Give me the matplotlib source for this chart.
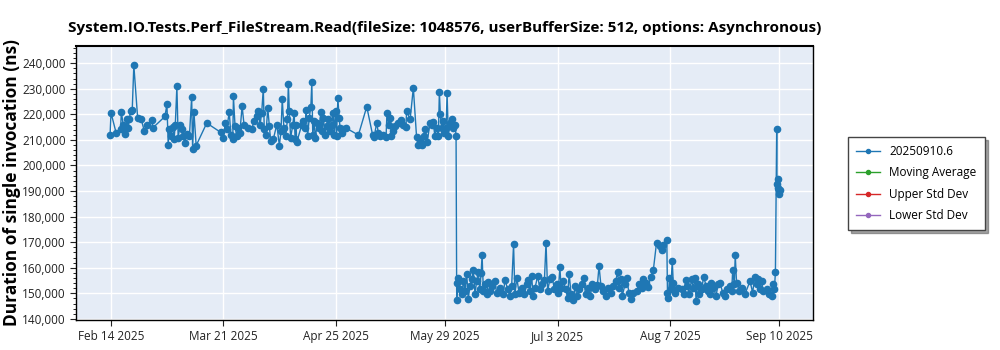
import pandas as pd
import matplotlib
matplotlib.use("Agg")
import matplotlib.pyplot as plt
import matplotlib.ticker as mticker

# days after Feb 14 2025 and measured duration (thousands of ns)
days = [
    -0.3, 0.0, 1.6, 3.0, 3.2, 3.8, 4.5, 4.9, 5.4, 5.7, 6.1, 6.6, 7.1, 8.3, 9.4, 10.4, 11.3, 12.7, 13.0,
    16.8, 17.4, 17.8, 18.1, 18.6, 19.2, 19.6, 20.0, 20.5, 20.9, 21.5, 22.0, 22.5, 23.0, 23.7, 24.4,
    25.1, 25.4, 25.8, 26.5, 29.8,
    34.1, 34.9, 35.6, 36.0, 36.8, 37.3, 37.9, 38.1, 38.6, 39.1, 39.6, 40.1, 40.8, 41.4, 42.7, 43.8,
    44.5, 45.3, 45.8, 46.4, 46.9, 47.4, 47.7, 48.2, 48.8, 49.3, 49.7,
    50.5, 51.6, 52.4, 52.9, 53.3, 53.8, 54.4, 54.9, 55.2, 55.5, 55.9, 56.6, 57.0, 57.3, 57.6, 57.8,
    59.4, 59.9, 60.4, 60.7, 61.2, 61.7, 62.2, 62.5, 62.8, 63.2, 63.6, 64.2, 64.8, 65.3, 65.7, 66.1,
    66.6, 67.1, 67.6, 68.2, 68.7, 69.2, 69.5, 69.9, 70.2, 70.6, 71.0, 71.3, 71.8, 72.3, 73.1,
    77.0, 79.6, 81.4, 81.9, 82.7, 83.2, 83.7, 84.7, 85.6, 85.9, 86.4, 86.8, 87.3, 87.9, 88.4, 89.4,
    90.2, 91.0, 91.8, 92.0, 93.1, 94.1, 95.1, 95.6, 96.2, 96.7, 97.4, 97.8, 98.4, 99.3, 99.8, 100.3,
    100.8, 101.4, 101.9, 102.2, 102.5, 102.9, 103.2, 103.6, 104.3, 104.6, 105.0, 105.5, 106.0,
    106.5, 107.1, 107.4,
    107.6, 107.8, 108.1, 108.6, 109.2, 109.7, 110.2, 110.7, 111.2, 111.7, 112.3, 112.8, 113.3,
    113.8, 114.3, 114.8, 115.2, 115.5, 115.9, 116.4, 116.9, 117.4, 118.0, 118.5, 119.5, 120.0,
    121.1, 122.1, 122.6, 123.5, 124.2, 124.7, 125.3, 125.7, 126.3, 127.0, 127.8, 128.6, 129.4,
    129.9, 130.4, 130.9, 131.4, 132.0, 132.8, 133.5, 134.2, 134.9, 135.4, 135.9, 136.6, 137.3,
    138.0, 138.7, 139.2, 139.7, 140.1, 140.8, 141.5, 142.1, 142.6, 143.2, 143.9, 144.4, 145.0,
    145.7, 146.5, 147.1, 147.7, 148.6, 149.2, 149.8, 150.6, 151.4, 151.9, 152.5, 153.2, 154.0,
    154.8, 155.6, 156.3, 157.1, 157.7, 158.1, 158.7, 159.1, 160.0, 160.5, 161.2, 161.8,
    162.6, 163.6, 164.4, 165.2, 165.7, 166.5, 167.2, 168.0, 168.8, 169.8, 170.9, 171.4, 171.9,
    173.0, 173.2, 173.5, 173.8, 174.2, 174.7, 175.0, 175.6, 176.6, 177.6, 178.3, 179.0, 179.4,
    180.0, 180.7, 181.2, 181.8, 182.1, 182.6, 183.1, 183.8, 184.5, 185.2, 185.9, 186.4, 186.9,
    187.5, 188.3, 189.0, 189.5, 190.4, 191.1, 191.8, 192.6, 193.2, 193.5, 194.0, 194.3, 194.7,
    195.6, 196.3, 197.3, 198.9, 199.7, 200.4, 201.0, 201.5, 202.0, 202.5, 203.0, 204.1, 204.9,
    205.6, 206.2, 206.5, 206.8, 207.2, 207.3, 207.5, 207.7, 207.8, 207.9, 208.2,
]
values_k = [
    211.9, 220.6, 212.7, 214.3, 220.9, 216.0, 212.5, 218.0, 214.7, 218.2, 221.3, 221.6, 239.2, 218.4, 218.1, 213.3, 215.7, 217.6, 214.7,
    219.2, 224.0, 208.2, 214.3, 211.5, 215.1, 210.2, 215.7, 230.9, 210.8, 216.0, 214.1, 211.5, 208.9, 212.5, 211.5,
    226.7, 206.3, 221.0, 207.8, 216.6,
    213.0, 210.8, 216.7, 214.1, 220.9, 212.1, 210.2, 227.1, 215.4, 211.5, 214.7, 212.8, 223.2, 216.0, 214.7, 214.1,
    217.3, 219.3, 221.3, 216.0, 220.6, 230.1, 214.1, 212.1, 222.3, 215.4, 209.5,
    210.2, 216.0, 207.8, 213.4, 226.1, 214.7, 211.5, 218.0, 231.9, 221.3, 210.8, 216.0, 220.6, 210.2, 216.0, 209.1,
    216.0, 217.3, 214.7, 221.9, 211.5, 218.7, 223.0, 232.6, 211.8, 217.3, 210.8, 216.7, 214.7, 220.9, 213.4, 218.7,
    212.1, 215.4, 218.0, 213.4, 216.0, 220.6, 212.1, 221.3, 211.5, 226.5, 218.7, 214.7, 212.8, 214.1, 214.7,
    211.9, 223.0, 212.1, 211.2, 216.7, 212.8, 211.5, 212.1, 211.1, 220.6, 216.0, 218.7, 211.5, 213.4, 215.4, 216.7,
    217.7, 216.0, 215.1, 221.3, 218.0, 230.4, 211.2, 208.2, 209.5, 208.2, 211.5, 214.3, 209.1, 216.7, 216.0, 217.0,
    211.5, 214.7, 211.5, 228.7, 220.3, 214.7, 217.3, 212.8, 214.7, 228.2, 211.5, 216.7, 218.2,
    214.7, 216.0, 211.5,
    147.3, 154.2, 156.1, 151.6, 149.6, 154.8, 150.9, 157.7, 147.7, 152.9, 155.5, 159.0, 149.6,
    154.8, 158.5, 151.6, 158.1, 164.9, 150.9, 153.5, 149.6, 154.6, 150.9, 152.9, 154.8, 150.3,
    152.2, 149.6, 155.1, 151.6, 149.0, 152.9, 169.2, 149.6, 155.9, 150.3, 152.2, 149.6, 153.5,
    155.1, 150.9, 156.8, 149.0, 152.2, 156.8, 151.6, 153.5, 155.1, 169.8, 150.9, 155.5, 156.4,
    151.6, 153.5, 150.3, 160.4, 152.2, 154.8, 151.6, 148.3, 157.7, 149.6, 147.3, 152.9, 149.0,
    151.6, 153.5, 156.1, 149.6, 152.2, 149.0, 153.5, 151.6, 153.3, 160.8, 152.9, 150.9, 149.0,
    152.2, 150.3, 152.9, 154.8, 158.5, 152.2, 155.5, 149.0, 153.5, 155.9, 150.3, 147.7,
    150.3, 150.9, 153.5, 152.2, 155.5, 154.2, 152.5, 156.5, 159.1, 169.8, 168.5, 166.8, 168.9,
    170.7, 150.3, 148.3, 155.8, 151.6, 162.5, 154.2, 150.3, 152.2, 151.6, 149.6, 155.1, 152.9,
    149.6, 155.5, 152.2, 155.8, 147.0, 153.5, 149.6, 151.6, 156.5, 152.9, 150.9, 149.6, 154.2,
    152.2, 149.0, 153.5, 154.2, 150.3, 149.0, 151.6, 152.9, 150.9, 159.0, 153.5, 165.0, 154.2,
    150.9, 152.2, 149.6, 154.8, 150.3, 156.4, 153.5, 155.5, 151.6, 154.8, 150.9, 151.6, 149.6,
    149.0, 153.5, 151.6, 158.4, 214.1, 192.6, 191.3, 194.8, 189.0, 190.3, 190.6,
]

tick_dates = ["2025-02-14", "2025-03-21", "2025-04-25", "2025-05-29", "2025-07-03", "2025-08-07", "2025-09-10"]
tick_labels = ["Feb 14 2025", "Mar 21 2025", "Apr 25 2025", "May 29 2025", "Jul 3 2025", "Aug 7 2025", "Sep 10 2025"]
series_names = ["20250910.6", "Moving Average", "Upper Std Dev", "Lower Std Dev"]
series_colors = ["#1f77b4", "#2ca02c", "#d62728", "#9467bd"]

plt.rcParams["font.family"] = ["Open Sans", "DejaVu Sans"]

base = pd.Timestamp("2025-02-14")
dates = base + pd.to_timedelta(days, unit="D")
values = [v * 1000 for v in values_k]

fig = plt.figure(figsize=(10, 3.5), dpi=100)
ax = fig.add_axes([0.076, 0.086, 0.737, 0.783])
ax.set_facecolor("#e5ecf6")

ax.plot(dates, values, color=series_colors[0], lw=1, marker="o", ms=4.5, label=series_names[0])
# the other series have no points in this view, only legend entries
for name, col in zip(series_names[1:], series_colors[1:]):
    ax.plot([], [], color=col, lw=1, marker="o", ms=4.5, label=name)

ax.set_xlim(base + pd.Timedelta(days=-10.9), base + pd.Timedelta(days=218.5))
ax.set_ylim(139600, 246800)
ax.set_xticks(pd.to_datetime(tick_dates))
ax.set_xticklabels(tick_labels)
ax.yaxis.set_major_locator(mticker.MultipleLocator(10000))
ax.yaxis.set_minor_locator(mticker.AutoMinorLocator(5))
ax.yaxis.set_major_formatter(mticker.FuncFormatter(lambda v, p: f"{int(v):,}"))
ax.grid(True, color="white", lw=1)
ax.set_axisbelow(True)
ax.tick_params(labelsize=8.5, colors="#222222", length=4)
ax.tick_params(axis="y", which="minor", length=2)
for s in ax.spines.values():
    s.set_color("black")
    s.set_linewidth(1)
ax.spines["top"].set_linewidth(1.5)

ax.set_title("System.IO.Tests.Perf_FileStream.Read(fileSize: 1048576, userBufferSize: 512, options: Asynchronous)",
             fontsize=11, fontweight="bold", pad=10)
ax.set_ylabel("Duration of single invocation (ns)", fontsize=12.5, fontweight="bold", labelpad=1)

leg = fig.legend(loc="upper left", bbox_to_anchor=(0.848, 0.609), borderaxespad=0, fontsize=8.5,
                 frameon=True, fancybox=False, shadow=True, borderpad=0.7, labelspacing=0.7,
                 handlelength=2, markerscale=0.65)
leg.get_frame().set_edgecolor("#444444")

fig.savefig("out.png", dpi=100)
